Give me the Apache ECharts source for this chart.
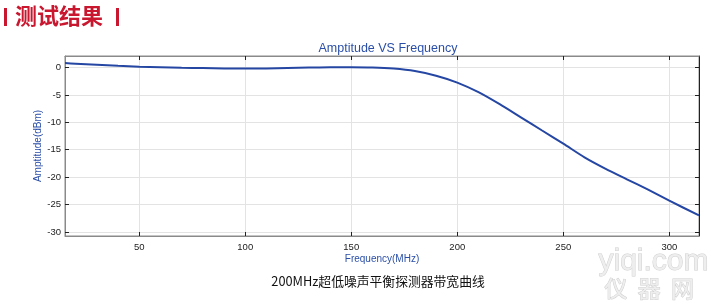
<!DOCTYPE html>
<html><head><meta charset="utf-8">
<script src="https://cdn.jsdelivr.net/npm/echarts@6/dist/echarts.min.js"></script>
<style>html,body{margin:0;padding:0;background:#fff}#c{width:713px;height:302px}</style>
</head><body><div id="c"></div>
<script>
const freqMHz = [15,20,30,40,50,60,70,80,90,100,110,120,130,140,150,160,170,180,190,200,210,220,230,240,250,260,270,280,290,300,314];
const amplitudeDbm = [0.8,0.7,0.5,0.3,0.15,0.05,-0.05,-0.1,-0.18,-0.2,-0.18,-0.1,-0.02,0.03,0.05,0.0,-0.2,-0.65,-1.5,-2.75,-4.5,-6.7,-9.1,-11.5,-13.9,-16.4,-18.5,-20.4,-22.3,-24.3,-27.0];
const xTicks = [50,100,150,200,250,300];
const yTicks = [0,-5,-10,-15,-20,-25,-30];

const data = freqMHz.map((f,i)=>[f, amplitudeDbm[i]]);
const chart = echarts.init(document.getElementById('c'));
const FONT = 'Liberation Sans, Arial, sans-serif';
const blue = '#2b4fa8';
const gridLine = {show:true, lineStyle:{color:'#e3e3e3', width:1}};
chart.setOption({
  animation:false,
  backgroundColor:'#fff',
  title:{text:'Amptitude VS Frequency', left:383, top:37, textAlign:'center',
    textStyle:{color:blue, fontSize:12.5, fontWeight:'normal', fontFamily:FONT}},
  grid:{left:65, right:14, top:56, bottom:66, show:true, borderColor:'#8a8a8a', borderWidth:1},
  xAxis:[{type:'value', min:15, max:314,
    name:'Frequency(MHz)', nameLocation:'middle', nameGap:18, nameMoveOverlap:false,
    nameTextStyle:{color:blue, fontSize:10, fontFamily:FONT},
    axisLine:{show:true, onZero:false, lineStyle:{color:'#8a8a8a'}},
    axisTick:{show:true, inside:true, length:4, customValues:xTicks, lineStyle:{color:'#222'}},
    axisLabel:{customValues:xTicks, color:'#222', fontSize:9.5, fontFamily:FONT, margin:6},
    splitLine:gridLine},
   {type:'value', position:'top', min:15, max:314,
    axisLine:{show:true, onZero:false, lineStyle:{color:'#8a8a8a'}},
    axisTick:{show:true, inside:true, length:4, customValues:xTicks, lineStyle:{color:'#222'}},
    axisLabel:{show:false}, splitLine:{show:false}}],
  yAxis:[{type:'value', min:-30.75, max:2.1,
    name:'Amptitude(dBm)', nameLocation:'middle', nameGap:22, nameMoveOverlap:false,
    nameTextStyle:{color:blue, fontSize:10, fontFamily:FONT},
    axisLine:{show:true, onZero:false, lineStyle:{color:'#8a8a8a'}},
    axisTick:{show:true, inside:true, length:4, customValues:yTicks, lineStyle:{color:'#222'}},
    axisLabel:{customValues:yTicks, color:'#222', fontSize:9.5, fontFamily:FONT, margin:4},
    splitLine:gridLine},
   {type:'value', position:'right', min:-30.75, max:2.1,
    axisLine:{show:true, onZero:false, lineStyle:{color:'#222'}},
    axisTick:{show:true, inside:true, length:4, customValues:yTicks, lineStyle:{color:'#222'}},
    axisLabel:{show:false}, splitLine:{show:false}}],
  series:[{type:'line', data:data, smooth:0.25, showSymbol:false,
    lineStyle:{color:'#2547a3', width:2}}],
  graphic:[
    {type:'rect', shape:{x:4, y:8, width:3, height:18}, style:{fill:'#c8172e'}},
    {type:'rect', shape:{x:116, y:8, width:3, height:18}, style:{fill:'#c8172e'}},
    {type:'text', left:15, top:5, style:{text:'测试结果', fill:'#c8172e', fontSize:22, fontWeight:'bold', fontFamily:'Noto Sans CJK SC'}},
    {type:'text', x:378, y:281, style:{text:'200MHz超低噪声平衡探测器带宽曲线', fill:'#111', fontSize:12.8, fontFamily:'Noto Sans CJK SC, Liberation Sans', align:'center', verticalAlign:'middle'}},
    {type:'text', left:598, top:246, style:{text:'yiqi.com', fill:'#eeeeee', stroke:'#cfcfcf', lineWidth:1, fontSize:30, fontFamily:FONT}},
    {type:'text', left:604, top:276, style:{text:'仪  器  网', fill:'#eeeeee', stroke:'#cfcfcf', lineWidth:1, fontSize:23, fontFamily:'Noto Sans CJK SC'}}
  ]
});
</script></body></html>
